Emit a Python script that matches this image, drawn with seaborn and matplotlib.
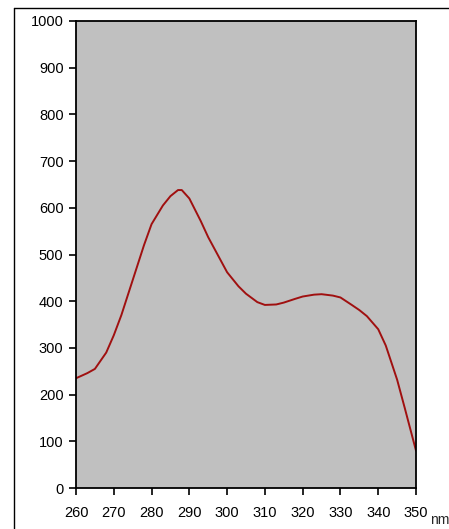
import matplotlib
matplotlib.use("Agg")
import matplotlib.pyplot as plt
import seaborn as sns
import pandas as pd
from matplotlib.lines import Line2D

wavelength = [260, 263, 265, 268, 270, 272, 275, 278, 280, 283, 285, 287, 288, 290,
              293, 295, 298, 300, 303, 305, 308, 310, 313, 315, 318, 320, 323, 325,
              328, 330, 333, 335, 337, 340, 342, 345, 347, 350]
intensity = [235, 246, 255, 290, 327, 370, 445, 520, 565, 605, 625, 638, 638, 620,
             572, 537, 492, 462, 432, 416, 398, 392, 393, 397, 405, 410, 414, 415,
             412, 408, 392, 381, 368, 340, 305, 232, 172, 80]
x_ticks = [260, 270, 280, 290, 300, 310, 320, 330, 340, 350]
y_ticks = [0, 100, 200, 300, 400, 500, 600, 700, 800, 900, 1000]

df = pd.DataFrame({"nm": wavelength, "val": intensity})

sns.set_style("ticks")
plt.rcParams['font.family'] = ['Liberation Sans', 'DejaVu Sans']

fig = plt.figure(figsize=(4.49, 5.29), dpi=100)
ax = fig.add_axes([76/449, 41/529, 340/449, 467/529])
ax.set_facecolor("#C0C0C0")
sns.lineplot(data=df, x="nm", y="val", ax=ax, color="#A01010", linewidth=1.4)
ax.set_xlim(260, 350)
ax.set_ylim(0, 1000)
ax.set_xticks(x_ticks)
ax.set_yticks(y_ticks)
ax.set_xlabel("")
ax.set_ylabel("")
for s in ax.spines.values():
    s.set_color("black")
    s.set_linewidth(1.3)
ax.tick_params(axis="both", direction="out", length=5, width=1.2, labelsize=10.5,
               colors="black")
ax.tick_params(axis="x", pad=8)
ax.tick_params(axis="y", pad=4)
fig.text(430/449, 1 - 524/529, "nm", fontsize=10, ha="left", va="baseline")

# outer chart border (top and left)
fig.add_artist(Line2D([14/449, 14/449], [0, 1 - 8/529], transform=fig.transFigure,
                      color="black", linewidth=1.0))
fig.add_artist(Line2D([14/449, 1], [1 - 8/529, 1 - 8/529], transform=fig.transFigure,
                      color="black", linewidth=1.0))

fig.savefig("out.png", dpi=100)
